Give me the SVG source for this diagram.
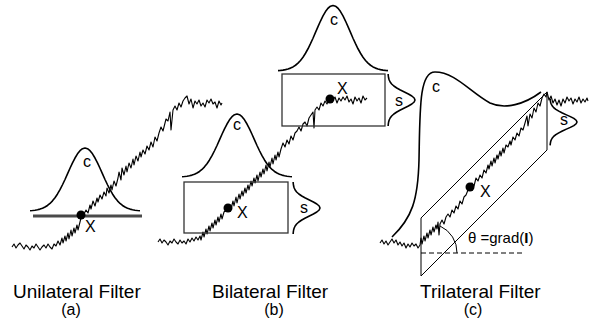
<svg xmlns="http://www.w3.org/2000/svg" xmlns:xlink="http://www.w3.org/1999/xlink" width="597" height="326" viewBox="0 0 597 326">
<style>
.sig{fill:none;stroke:#000;stroke-width:1.1;stroke-linejoin:round}
.crv{fill:none;stroke:#000;stroke-width:1.6}
.box{fill:none;stroke:#333;stroke-width:1.3}
.thin{fill:none;stroke:#000;stroke-width:1}
.lbl{font-family:"Liberation Sans",Arial,sans-serif;font-size:19px;fill:#000}
.sub{font-family:"Liberation Sans",Arial,sans-serif;font-size:16px;fill:#000;text-anchor:middle}
.t{font-family:"Liberation Sans",Arial,sans-serif;font-size:16px;fill:#000}
.tm{font-family:"Liberation Sans",Arial,sans-serif;font-size:16px;fill:#000;text-anchor:middle}
</style>
<defs>
<path id="gauss" d="M-55,-0.32 L-52.5,-0.54 L-50,-0.83 L-47.5,-1.27 L-45,-1.9 L-42.5,-2.77 L-40,-3.96 L-37.5,-5.53 L-35,-7.56 L-32.5,-10.13 L-30,-13.29 L-27.5,-17.03 L-25,-21.36 L-22.5,-26.24 L-20,-31.5 L-17.5,-37.09 L-15,-42.72 L-12.5,-48.07 L-10,-52.98 L-7.5,-57.16 L-5,-60.33 L-2.5,-62.32 L0,-63 L2.5,-62.32 L5,-60.33 L7.5,-57.16 L10,-52.98 L12.5,-48.07 L15,-42.72 L17.5,-37.09 L20,-31.5 L22.5,-26.24 L25,-21.36 L27.5,-17.03 L30,-13.29 L32.5,-10.13 L35,-7.56 L37.5,-5.53 L40,-3.96 L42.5,-2.77 L45,-1.9 L47.5,-1.27 L50,-0.83 L52.5,-0.54 L55,-0.32" class="crv" stroke-linejoin="round"/>
<path id="sg" d="M0.14,-26 L0.3,-24 L0.61,-22 L1.19,-20 L2.15,-18 L3.65,-16 L5.85,-14 L8.78,-12 L12.37,-10 L16.38,-8 L20.39,-6 L23.83,-4 L26.17,-2 L27,0 L26.17,2 L23.83,4 L20.39,6 L16.38,8 L12.37,10 L8.78,12 L5.85,14 L3.65,16 L2.15,18 L1.19,20 L0.61,22 L0.3,24 L0.14,26" class="crv" stroke-linejoin="round"/>
</defs>

<g id="panel-a">
<polyline class="sig" points="12,247 14,244 16,248 18,245 20,243 22,246 24,249 26,245 28,247 30,250 32,246 34,248 36,244 38,247 40,250 42,247 44,245 46,248 48,244 50,247 52,249 54,244 56,246 58,241 60,245 62,238 63,243 65,236 66,241 68,233 69,239 71,230 72,236 74,228 75,233 77,225 78,230 80,222 81,218 84,214 86,210 88,213 90,205 91,209 93,201 95,206 97,198 98,202 100,195 102,199 104,192 106,196 107,188 109,193 111,185 112,190 114,181 116,186 118,178 119,172 121,180 122,168 124,175 126,166 127,172 129,163 131,168 133,159 134,165 136,156 138,161 140,152 141,157 143,150 145,154 147,146 149,150 151,142 153,147 155,137 157,141 159,133 161,127 163,131 165,123 166,119 168,121 170,112 171,130 173,110 175,106 177,110 179,103 181,107 183,101 185,98 187,96 189,104 191,99 193,108 195,101 197,104 199,100 201,106 203,103 205,107 207,100 209,103 211,99 213,104 215,102 217,108 219,101 221,105 222,103"/>
<use xlink:href="#gauss" href="#gauss" transform="translate(85,211)"/>
<line x1="33" y1="216" x2="142" y2="216" stroke="#4a4a4a" stroke-width="3"/>
<circle cx="81" cy="215" r="4.5" fill="#000"/>
<text class="tm" x="87" y="167">c</text>
<text class="t" x="85" y="232">X</text>
<text class="lbl" x="13" y="298">Unilateral Filter</text>
<text class="sub" x="71" y="315">(a)</text>
</g>

<g id="panel-b">
<polyline class="sig" points="158,242 160,239 162,243 164,240 166,242 168,245 170,241 172,243 174,239 176,242 178,244 180,240 182,243 184,241 186,244 188,239 190,242 192,238 194,241 196,237 198,240 200,236 201,240 203,232 204,237 206,229 207,234 209,226 210,231 212,223 213,228 215,220 216,225 218,217 219,222 221,214 222,219 224,212 226,210 228,208 230,205 231,209 233,201 234,206 236,197 237,203 239,194 240,199 242,191 243,196 245,188 246,193 248,185 249,190 251,181 252,186 254,178 255,183 257,175 258,181 260,172 261,177 263,169 264,174 266,165 267,171 269,162 270,167 272,158 273,164 275,155 276,160 278,152 279,157 281,149 283,143 285,147 287,140 289,144 291,136 293,140 295,133 297,131 299,127 301,131 303,124 305,122 307,126 309,118 311,115 313,112 314,128 315,110 317,107 319,110 321,103 323,106 325,101 327,104 329,99 331,97 333,100 335,97 337,103 339,98 341,101 343,97 345,100 347,96 349,102 351,99 353,104 355,97 357,101 359,98 361,103 363,96 365,100 367,98"/>
<use xlink:href="#gauss" href="#gauss" transform="translate(237,177)"/>
<rect class="box" x="184" y="182" width="104" height="51"/>
<use xlink:href="#sg" href="#sg" transform="translate(293,208)"/>
<circle cx="228" cy="208" r="4.5" fill="#000"/>
<text class="tm" x="237" y="130">c</text>
<text class="t" x="237" y="218">X</text>
<text class="tm" x="304" y="213">s</text>
<use xlink:href="#gauss" href="#gauss" transform="translate(333,71) scale(1,1.04)"/>
<rect class="box" x="282" y="74" width="103" height="52"/>
<use xlink:href="#sg" href="#sg" transform="translate(388,100)"/>
<circle cx="330" cy="99" r="4.5" fill="#000"/>
<text class="tm" x="334" y="25">c</text>
<text class="t" x="337" y="94">X</text>
<text class="tm" x="399" y="106">s</text>
<text class="lbl" x="212" y="298">Bilateral Filter</text>
<text class="sub" x="274" y="315">(b)</text>
</g>

<g id="panel-c">
<polygon class="thin" points="421,218 547,92 547,150 421,276"/>
<polyline class="sig" points="380,243 382,240 384,244 386,241 388,245 390,242 392,239 394,243 396,240 398,245 400,242 402,246 404,243 406,248 408,244 410,247 412,243 414,246 416,244 418,248 420,245 421,238 422,244 424,236 425,241 427,233 428,238 430,230 431,235 433,227 434,232 436,225 437,229 438,222 439,235 440,224 442,220 444,224 446,217 448,214 450,217 452,210 454,213 456,206 458,209 460,201 462,204 464,197 466,195 468,190 470,187 472,183 474,186 476,178 478,181 480,175 482,178 484,170 486,173 488,165 489,169 491,161 492,166 494,158 495,163 497,155 498,159 500,151 501,156 503,148 504,153 506,145 508,147 510,141 511,145 513,137 515,140 517,133 519,136 521,128 523,130 525,123 527,116 528,126 530,114 532,118 534,108 536,112 538,103 540,106 542,98 544,94 546,97 547,92 549,100 551,96 553,103 555,99 557,105 559,100 561,106 563,99 565,103 567,97 569,101 571,98 573,104 575,99 577,102 579,97 581,103 583,99 585,102 587,98 588,101"/>
<path class="crv" d="M392,237 C412,218 418,200 419,160 C420,110 419,72 435,72 C455,72 470,92 490,103 C505,110 525,104 541,92"/>
<use xlink:href="#sg" href="#sg" transform="translate(550,122) scale(1,0.9)"/>
<line x1="421" y1="253" x2="525" y2="253" stroke="#000" stroke-width="1" stroke-dasharray="5,3"/>
<path class="thin" d="M440,226 A29,29 0 0 1 457,253"/>
<circle cx="470" cy="187" r="4.5" fill="#000"/>
<text class="tm" x="436" y="92">c</text>
<text class="t" x="480" y="197">X</text>
<text class="tm" x="564" y="125">s</text>
<text font-family="Liberation Sans, Arial, sans-serif" font-size="15" x="468" y="243">θ =grad(<tspan font-weight="bold">I</tspan>)</text>
<text class="lbl" x="420" y="298">Trilateral Filter</text>
<text class="sub" x="473" y="315">(c)</text>
</g>
</svg>
